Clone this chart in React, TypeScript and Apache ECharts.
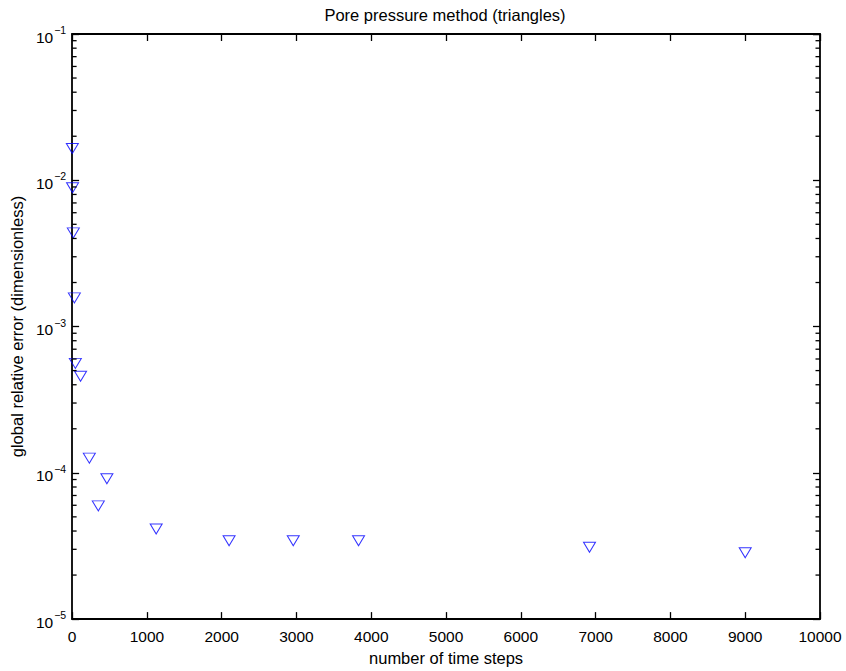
import React, { useEffect, useRef } from "react";
import * as echarts from "echarts";

const titleText = "Pore pressure method (triangles)";
const xName = "number of time steps";
const yName = "global relative error (dimensionless)";

const steps = [3, 6, 16, 30, 43, 113, 230, 350, 465, 1124, 2099, 2957, 3830, 6918, 9000];
const errors = [
  1.65e-2, 8.9e-3, 4.37e-3, 1.57e-3, 5.6e-4, 4.57e-4, 1.26e-4, 5.94e-5, 9.1e-5,
  4.13e-5, 3.43e-5, 3.43e-5, 3.43e-5, 3.1e-5, 2.84e-5,
];

const xMin = 0;
const xMax = 10000;
const xInterval = 1000;
const yMin = 1e-5;
const yMax = 1e-1;
const minorMultipliers = [2, 3, 4, 5, 6, 7, 8, 9];
const decadeExponents = [-5, -4, -3, -2];

const FONT = "'Liberation Sans', Arial, Helvetica, sans-serif";

export default function App() {
  const ref = useRef<HTMLDivElement>(null);

  useEffect(() => {
    if (!ref.current) return;
    const chart = echarts.init(ref.current, undefined, { renderer: "svg" });

    const yLabelFormatter = (v: number) => {
      const exp = Math.round(Math.log10(v));
      return `{b|10}{s|${exp < 0 ? "\u2212" : ""}${Math.abs(exp)}}`;
    };

    const rich = {
      b: { fontSize: 15.5, fontFamily: FONT, color: "#000", padding: [6, 0, 0, 0] },
      s: { fontSize: 10.5, fontFamily: FONT, color: "#000", padding: [0, 0, 8, 1] },
    };

    const tickCommon = {
      show: true,
      inside: true,
      length: 7,
      lineStyle: { color: "#000", width: 1.3 },
    };

    const lineCommon = { show: true, onZero: false, lineStyle: { color: "#000", width: 1.8 } };

    const titleGraphic = {
      type: "text",
      x: 445,
      y: 6,
      style: {
        text: titleText,
        textAlign: "center",
        textVerticalAlign: "top",
        fontSize: 16.5,
        fontFamily: FONT,
        fill: "#000",
      },
    };

    chart.setOption({
      animation: false,
      backgroundColor: "#fff",
      grid: { left: 70, right: 26, top: 34, bottom: 45, containLabel: false },
      graphic: [titleGraphic],
      xAxis: [
        {
          type: "value",
          min: xMin,
          max: xMax,
          interval: xInterval,
          position: "bottom",
          name: xName,
          nameLocation: "middle",
          nameGap: 26,
          nameTextStyle: { fontSize: 16.5, fontFamily: FONT, color: "#000" },
          axisLine: lineCommon,
          axisTick: tickCommon,
          axisLabel: {
            fontSize: 15.5,
            fontFamily: FONT,
            color: "#000",
            margin: 9,
            formatter: (v: number) => String(v),
          },
          splitLine: { show: false },
        },
        {
          type: "value",
          min: xMin,
          max: xMax,
          interval: xInterval,
          position: "top",
          axisLine: lineCommon,
          axisTick: tickCommon,
          axisLabel: { show: false },
          splitLine: { show: false },
        },
      ],
      yAxis: [
        {
          type: "log",
          logBase: 10,
          min: yMin,
          max: yMax,
          position: "left",
          name: yName,
          nameLocation: "middle",
          nameGap: 41,
          nameRotate: 90,
          nameTextStyle: { fontSize: 16.5, fontFamily: FONT, color: "#000" },
          axisLine: lineCommon,
          axisTick: tickCommon,
          axisLabel: { formatter: yLabelFormatter, rich, margin: 6 },
          splitLine: { show: false },
        },
        {
          type: "log",
          logBase: 10,
          min: yMin,
          max: yMax,
          position: "right",
          axisLine: lineCommon,
          axisTick: tickCommon,
          axisLabel: { show: false },
          splitLine: { show: false },
        },
      ],
      series: [
        {
          type: "scatter",
          xAxisIndex: 0,
          yAxisIndex: 0,
          z: 6,
          symbol: "triangle",
          symbolRotate: 180,
          symbolSize: [12, 10],
          itemStyle: { color: "rgba(0,0,0,0)", borderColor: "#0000ff", borderWidth: 1 },
          data: steps.map((s, i) => [s, errors[i]]),
        },
      ],
    });

    // minor log ticks (2..9 x 10^k) on the left and right frame edges,
    // positioned through the chart's own axis scales
    const minorTickLen = 4.5;
    const minorLines: any[] = [];
    decadeExponents.forEach((e) => {
      minorMultipliers.forEach((m) => {
        const v = m * Math.pow(10, e);
        const pl = chart.convertToPixel({ gridIndex: 0 }, [xMin, v]) as number[];
        const pr = chart.convertToPixel({ gridIndex: 0 }, [xMax, v]) as number[];
        if (!pl || !pr) return;
        minorLines.push({
          type: "line",
          z: 10,
          shape: { x1: pl[0], y1: pl[1], x2: pl[0] + minorTickLen, y2: pl[1] },
          style: { stroke: "#000", lineWidth: 1.3 },
        });
        minorLines.push({
          type: "line",
          z: 10,
          shape: { x1: pr[0], y1: pr[1], x2: pr[0] - minorTickLen, y2: pr[1] },
          style: { stroke: "#000", lineWidth: 1.3 },
        });
      });
    });
    chart.setOption({ graphic: [titleGraphic, ...minorLines] }, { replaceMerge: ["graphic"] });

    return () => {
      chart.dispose();
    };
  }, []);

  return (
    <div
      ref={ref}
      style={{ position: "fixed", left: 0, top: 0, width: 846, height: 671, background: "#fff" }}
    />
  );
}
